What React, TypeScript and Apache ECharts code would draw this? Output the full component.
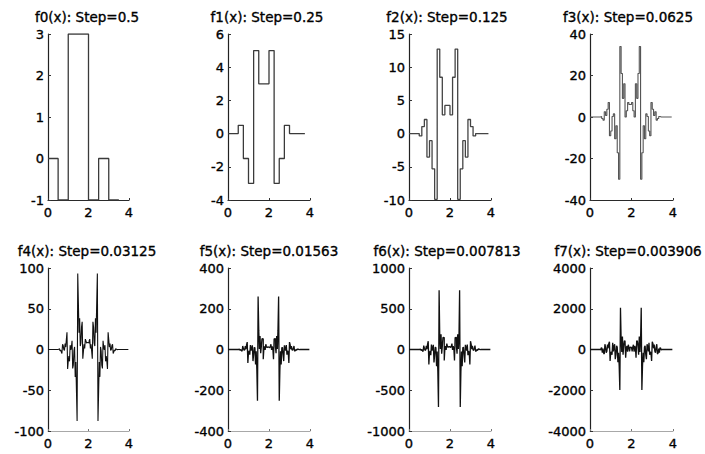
import React, { useEffect, useRef } from "react";
import * as echarts from "echarts";

// ---------- data ----------
const titles = [
  "f0(x): Step=0.5",
  "f1(x): Step=0.25",
  "f2(x): Step=0.125",
  "f3(x): Step=0.0625",
  "f4(x): Step=0.03125",
  "f5(x): Step=0.01563",
  "f6(x): Step=0.007813",
  "f7(x): Step=0.003906",
];

const yMin = [-1, -4, -10, -40, -100, -400, -1000, -4000];
const yMax = [3, 6, 15, 40, 100, 400, 1000, 4000];
const yInterval = [1, 2, 5, 20, 50, 200, 500, 2000];
const xMin = 0;
const xMax = 4;
const xInterval = 2;

// sampling of each stored array (x of the first stored value, spacing)
const dataStart = [0, 0.5, 0.5, 0.5, 0.5, 0.5, 0.5, 0.5];
const dataStep = [0.5, 0.25, 0.125, 0.0625, 0.03125, 0.03125, 0.03125, 0.03125];

const f0 = [0, -1, 3, 3, -1, 0, -1, -1];
const f1 = [0.5, -1.5, -3, 5, 3, 3, 5, -3, -1.5, 0.5];
const f2 = [
  -0.35, 1.06, 2.12, -3.54, -1.06, -5.3, -9.9, 12.73, 8.49, 2.83, 4.24,
  4.24, 2.83, 8.49, 12.73, -9.9, -5.3, -1.06, -3.54, 2.12, 1.06, -0.35,
];
const f3 = [
  0.25, -0.75, -1.5, 2.5, 0.75, 3.75, 7, -9, -6.75, 0.25, 1.5, -10.5, -4.25,
  -17.25, -30, 34, 21, 9, 16, 0, 3, 7, 6, 6, 7, 3, 0, 16, 9, 21, 34, -30,
  -17.25, -4.25, -10.5, 1.5, 0.25, -6.75, -9, 7, 3.75, 0.75, 2.5, -1.5,
  -0.75, 0.25,
];
const f4 = [
  -0.2, 0.5, 1.1, -1.8, -0.5, -2.7, -5.0, 6.4, 4.8, -0.2, -1.1, 7.4, 3.0,
  12.2, 21.2, -24.0, -14.3, -8.0, -14.5, 5.3, -0.5, 3.0, 10.6, -23.3, -19.3,
  -1.6, 3.2, -33.6, -15.4, -51.4, -87.7, 93.3, 57.3, 20.5, 38.2, 4.2, 7.8,
  27.6, 33.9, -11.3, -2.1, 6.4, 1.4, 12.7, 10.6, 7.8, 8.5, 8.5, 7.8, 10.6,
  12.7, 1.4, 6.4, -2.1, -11.3, 33.9, 27.6, 7.8, 4.2, 38.2, 20.5, 57.3, 93.3,
  -87.7, -51.4, -15.4, -33.6, 3.2, -1.6, -19.3, -23.3, 10.6, 3.0, -0.5, 5.3,
  -14.5, -8.0, -14.3, -24.0, 21.2, 12.2, 3.0, 7.4, -1.1, -0.2, 4.8, 6.4,
  -5.0, -2.7, -0.5, -1.8, 1.1, 0.5, -0.2,
];
const f5 = [
  -0.4, 1.2, 2.0, -4.6, 0.2, -5.4, -8.7, 17.1, 5.6, -3.8, -2.2, 16.5, 1.1,
  23.7, 36.3, -65.9, -13.3, -6.8, -25.1, 21.5, -4.8, 6.7, 20.3, -56.9, -24.4,
  10.3, 7.9, -73.5, -8.8, -98.0, -252, 260, 95, 2.8, 66.4, -18.2, 13.5, 53.0,
  52.3, -48.1, 3.6, 15.1, -1.6, 25.9, 13.5, 9.0, 12.5, 12.0, 12.5, 9.0, 13.5,
  25.9, -1.6, 15.1, 3.6, -48.1, 52.3, 53.0, 13.5, -18.2, 66.4, 2.8, 95, 260,
  -252, -98.0, -8.8, -73.5, 7.9, 10.3, -24.4, -56.9, 20.3, 6.7, -4.8, 21.5,
  -25.1, -6.8, -13.3, -65.9, 36.3, 23.7, 1.1, 16.5, -2.2, -3.8, 5.6, 17.1,
  -8.7, -5.4, 0.2, -4.6, 2.0, 1.2, -0.4,
];
const f6 = [
  -1, 3, 6, -13, 1, -15, -24, 48, 16, -11, -6, 46, 3, 66, 102, -185, -37,
  -19, -70, 60, -13, 19, 57, -159, -68, 29, 22, -206, -25, -274, -706, 728,
  155, 8, 186, -51, 38, 148, 146, -135, 10, 42, -4, 73, 38, 25, 35, 34, 35,
  25, 38, 73, -4, 42, 10, -135, 146, 148, 38, -51, 186, 8, 155, 728, -706,
  -274, -25, -206, 22, 29, -68, -159, 57, 19, -13, 60, -70, -19, -37, -185,
  102, 66, 3, 46, -6, -11, 16, 48, -24, -15, 1, -13, 6, 3, -1,
];
const f7 = [
  -20, 60, 90, -150, 40, -180, -220, 260, 120, -160, -90, 240, 60, 300, 380,
  -560, -150, -120, -260, 330, -90, 150, 260, -480, -250, 180, 120, -620,
  -160, -800, -1990, 2050, 520, -120, 640, -260, 180, 430, 410, -400, 90, 170,
  -110, 230, 130, -90, 110, 100, 110, -90, 130, 230, -110, 170, 90, -400, 410,
  430, 180, -260, 640, -120, 520, 2050, -1990, -800, -160, -620, 120, 180,
  -250, -480, 260, 150, -90, 330, -260, -120, -150, -560, 380, 300, 60, 240,
  -90, -160, 120, 260, -220, -180, 40, -150, 90, 60, -20,
];
const seriesValues = [f0, f1, f2, f3, f4, f5, f6, f7];

// ---------- layout & style ----------
const panelLeft = [48, 228, 409, 590, 48, 228, 409, 590];
const panelWidth = [81, 82, 82, 83, 81, 82, 82, 83];
const panelTop = [34, 34, 34, 34, 268, 268, 268, 268];
const panelHeight = [166, 166, 166, 166, 163, 163, 163, 163];
const titleX = [87, 267, 447, 628, 87, 269, 447, 628];
const titleTop = [10, 10, 10, 10, 244, 244, 244, 244];
const lineColor = ["#3a3a3a", "#3a3a3a", "#444", "#555", "#111", "#111", "#111", "#111"];
const lineWidth = [1.3, 1.3, 1.3, 1.1, 1.1, 1.3, 1.3, 1.3];

const FONT = "DejaVu Sans";
const textHeavy = { textBorderColor: "#000", textBorderWidth: 0.35 };

function buildPoints(values: number[], start: number, step: number) {
  const total = Math.round((xMax - xMin) / step);
  const lead = Math.round((start - xMin) / step);
  const pts: number[][] = [];
  for (let i = 0; i < total; i++) {
    const k = i - lead;
    const v = k >= 0 && k < values.length ? values[k] : 0;
    pts.push([xMin + i * step, v]);
  }
  return pts;
}

export default function App() {
  const ref = useRef<HTMLDivElement>(null);

  useEffect(() => {
    if (!ref.current) return;
    const chart = echarts.init(ref.current, undefined, { renderer: "svg" });
    const n = titles.length;
    const idx = Array.from({ length: n }, (_, i) => i);

    const option: any = {
      animation: false,
      backgroundColor: "#ffffff",
      title: idx.map((i) => ({
        text: titles[i],
        left: titleX[i],
        top: titleTop[i],
        textAlign: "center",
        padding: 0,
        textStyle: {
          fontFamily: FONT,
          fontSize: 13.5,
          fontWeight: "normal",
          color: "#000",
          ...textHeavy,
        },
      })),
      grid: idx.map((i) => ({
        left: panelLeft[i],
        top: panelTop[i],
        width: panelWidth[i],
        height: panelHeight[i],
        containLabel: false,
      })),
      xAxis: idx.map((i) => ({
        type: "value",
        gridIndex: i,
        min: xMin,
        max: xMax,
        interval: xInterval,
        axisLine: {
          show: true,
          onZero: false,
          lineStyle: { color: i < 4 ? "#2a2a2a" : "#a8a8a8", width: i < 4 ? 1.2 : 1 },
        },
        axisTick: {
          show: true,
          inside: true,
          length: 2,
          lineStyle: { color: i < 4 ? "#333" : "#777" },
        },
        axisLabel: {
          margin: 6,
          fontFamily: FONT,
          fontSize: 13,
          color: "#000",
          ...textHeavy,
          formatter: (v: number) => String(v),
        },
        splitLine: { show: false },
      })),
      yAxis: idx.map((i) => ({
        type: "value",
        gridIndex: i,
        min: yMin[i],
        max: yMax[i],
        interval: yInterval[i],
        axisLine: { show: true, onZero: false, lineStyle: { color: "#222", width: 1.2 } },
        axisTick: { show: true, inside: true, length: 3, lineStyle: { color: "#333" } },
        axisLabel: {
          margin: 4,
          fontFamily: FONT,
          fontSize: 13,
          color: "#000",
          ...textHeavy,
          formatter: (v: number) => String(v),
        },
        splitLine: { show: false },
      })),
      series: idx.map((i) => ({
        type: "line",
        xAxisIndex: i,
        yAxisIndex: i,
        step: "end",
        symbol: "none",
        silent: true,
        clip: true,
        data: buildPoints(seriesValues[i], dataStart[i], dataStep[i]),
        lineStyle: { color: lineColor[i], width: lineWidth[i] },
      })),
    };

    chart.setOption(option);
    return () => chart.dispose();
  }, []);

  return (
    <div
      ref={ref}
      style={{ position: "fixed", left: 0, top: 0, width: 705, height: 454 }}
    />
  );
}
